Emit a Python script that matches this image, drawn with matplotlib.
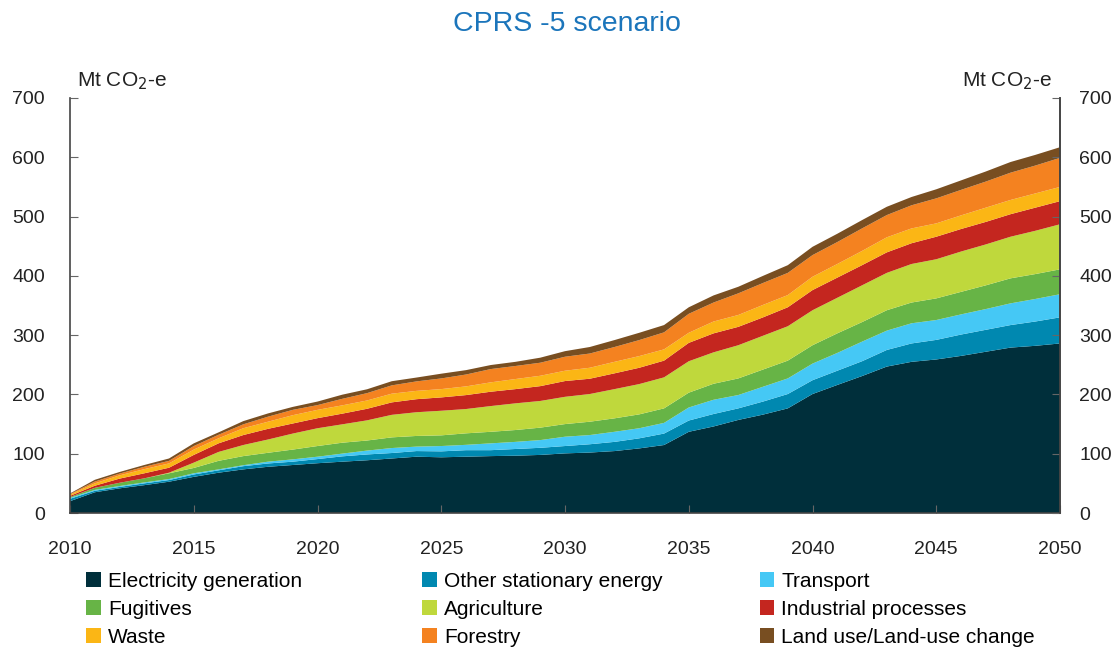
import matplotlib.pyplot as plt
from matplotlib.patches import Patch

plt.rcParams['font.family'] = ['Liberation Sans', 'DejaVu Sans']

# data (Mt CO2-e)
years = list(range(2010, 2051))

electricity = [20, 35, 41.6, 47, 52.8, 61, 68, 73.6, 78, 81, 84,
               86.6, 89, 92, 95, 94, 95, 96, 96.7, 98, 100.6,
               102, 104.5, 109, 114.7, 137, 146, 157, 166, 176.5, 200.7,
               216, 231, 247, 255, 259, 265, 272, 279, 282, 286]
other_stationary = [4, 2.5, 2.4, 3, 2.8, 4, 4, 5.4, 5.6, 5.6, 7,
                    9, 9.8, 9.2, 9.5, 10, 11, 10, 11.3, 12, 12.4,
                    14, 15.5, 17, 19.3, 19, 21, 19.5, 22, 24.2, 23.3,
                    24, 25, 28, 31, 33, 36, 37, 38, 41, 44]
transport = [1.5, 1.5, 1.5, 1.6, 1.7, 2, 1.6, 1.6, 3, 3.9, 4,
             4.6, 6.5, 8.4, 7.5, 9, 9, 11.5, 12, 13, 15.7,
             15.5, 17, 17, 18, 22, 24, 22.5, 25, 26.3, 28,
             30, 33, 32.6, 34, 33.5, 34, 35, 36.6, 38, 39]
fugitives = [1.5, 3.5, 5.5, 6.9, 9.7, 9, 14.4, 15.4, 15, 16.5, 18,
             18.4, 17, 18, 18, 18, 19.4, 19.5, 20, 21, 21.3,
             22.5, 22.7, 23.4, 24.5, 25, 27, 28, 29, 30, 31,
             33, 33, 34.4, 35, 36.5, 38, 40, 42.2, 42, 42]
agriculture = [0, 0, 0, 0, 1, 9, 15, 18.7, 22.4, 27, 30,
               31, 34, 38, 40, 41.5, 41, 43.4, 45, 45, 46,
               46.7, 49.3, 51.1, 52.3, 53, 53, 56, 57, 58, 59,
               60, 62, 63, 65, 66, 68, 69, 70.2, 73, 76]
industrial = [2, 3.5, 7, 8.5, 8.4, 13, 14.5, 16.8, 18, 17, 17,
              18, 19.5, 21, 22, 22.5, 23.5, 24.2, 24, 25, 26.6,
              25.8, 26.6, 27.5, 28.2, 31, 32, 31, 31, 32, 34,
              34, 34, 34.6, 35, 38, 38, 38, 38, 39, 39]
waste = [2, 4, 5.5, 7, 7.3, 9, 8.5, 11.5, 12, 14, 14,
         14, 14, 14.7, 14, 14, 14.7, 15.8, 17, 17.5, 17.4,
         18.5, 19.4, 19.7, 19, 17, 20, 20, 21, 20.6, 22.5,
         23, 24, 25.4, 25, 22.5, 23, 24, 24, 24, 24]
forestry = [1, 3, 3, 4, 4.3, 6, 6, 6.6, 8.5, 9, 8,
            11, 12.4, 14, 16, 18, 20, 22.4, 22, 22, 23.6,
            24, 25, 27, 28.7, 32, 32, 36.5, 37, 37.4, 36.5,
            37, 38, 37.5, 39, 42.2, 43, 44, 46, 47, 49]
land_use = [1, 3, 2.7, 3, 4, 4.5, 4, 5.4, 5.5, 5, 6,
            7, 6.5, 7, 6.5, 8, 7.4, 6.8, 7, 8.5, 9.4,
            11, 11.7, 12.3, 12.3, 11, 12, 11.1, 12, 13, 14,
            14, 14, 14, 14, 15.3, 16, 17, 18, 18, 18]

sectors = ['Electricity generation', 'Other stationary energy', 'Transport',
           'Fugitives', 'Agriculture', 'Industrial processes',
           'Waste', 'Forestry', 'Land use/Land-use change']
colors = ['#002f3b', '#0088b0', '#45c8f5', '#67b446', '#bfd83c',
          '#c4261f', '#fbb615', '#f48220', '#784e21']

fig = plt.figure(figsize=(11.17, 6.48), dpi=100)
ax = fig.add_axes([0.0627, 0.2083, 0.8863, 0.6405])

ax.stackplot(years, electricity, other_stationary, transport, fugitives,
             agriculture, industrial, waste, forestry, land_use,
             colors=colors, linewidth=0)

ax.set_xlim(2010, 2050)
ax.set_ylim(0, 700)
ax.set_xticks(range(2010, 2051, 5))
ax.set_yticks(range(0, 701, 100))
ax.spines['top'].set_visible(False)
for s in ['left', 'right', 'bottom']:
    ax.spines[s].set_color('#444444')
    ax.spines[s].set_linewidth(1.2)
ax.tick_params(axis='both', direction='in', length=6, color='#666666',
               labelsize=14, labelcolor='#222222')
ax.tick_params(axis='y', pad=18)
ax.tick_params(axis='x', pad=20)

# right hand axis
ax2 = ax.twinx()
ax2.set_ylim(0, 700)
ax2.set_yticks(range(0, 701, 100))
for s in ['top', 'left', 'bottom']:
    ax2.spines[s].set_visible(False)
ax2.spines['right'].set_color('#444444')
ax2.spines['right'].set_linewidth(1.2)
ax2.tick_params(axis='y', direction='in', length=6, color='#666666',
                labelsize=14, labelcolor='#222222', pad=14)

fig.text(0.069, 0.875, 'Mt CO$_2$-e', fontsize=15, color='#222222', va='center')
fig.text(0.942, 0.875, 'Mt CO$_2$-e', fontsize=15, color='#222222',
         va='center', ha='right')

fig.text(0.508, 0.963, 'CPRS -5 scenario', fontsize=20.5, color='#1b75bb',
         ha='center', va='center')

# legend in three columns, filled row by row
col_x = [0.077, 0.378, 0.68]
for c in range(3):
    idx = [c, c + 3, c + 6]
    handles = [Patch(facecolor=colors[i], edgecolor='none') for i in idx]
    labels = [sectors[i] for i in idx]
    fig.legend(handles, labels, loc='upper left', bbox_to_anchor=(col_x[c], 0.118),
               frameon=False, fontsize=15,
               handlelength=0.7, handleheight=0.7, handletextpad=0.35,
               labelspacing=0.44, borderaxespad=0, borderpad=0)

plt.savefig('out.png', dpi=100)
